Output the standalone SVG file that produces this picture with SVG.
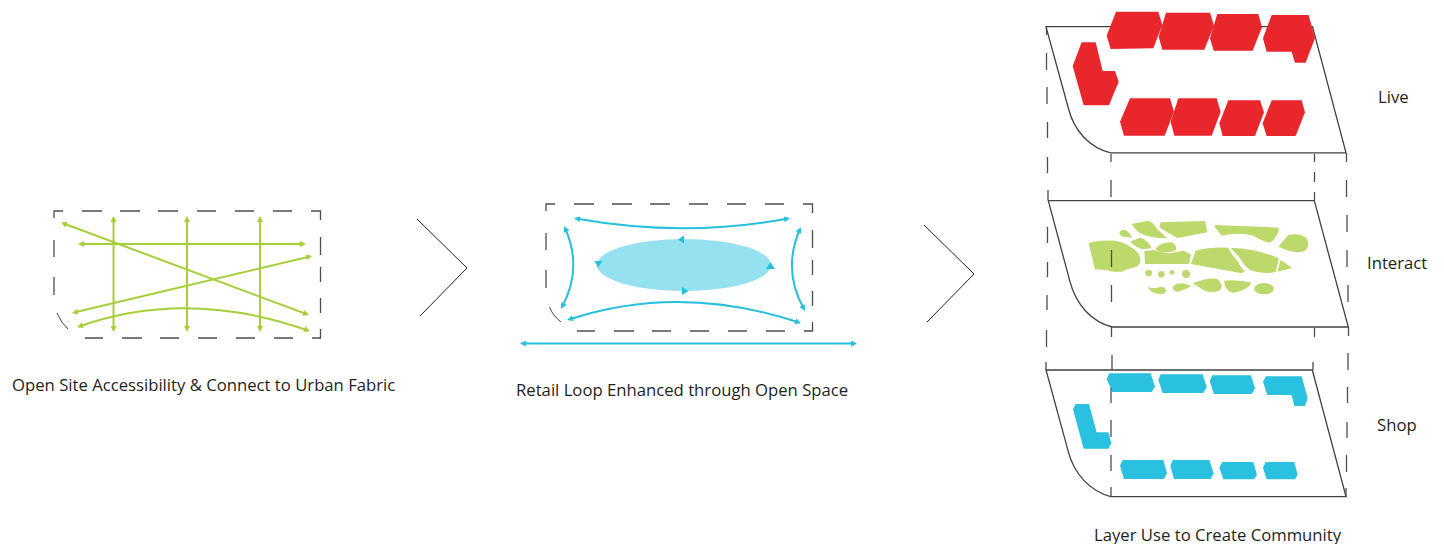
<svg xmlns="http://www.w3.org/2000/svg" width="1444" height="544" viewBox="0 0 1444 544">
<style>
text{font-family:"Open Sans","Noto Sans","Liberation Sans",sans-serif;font-size:16.700px;fill:#231f20}
.dash{fill:none;stroke:#4d4d4f;stroke-width:1.300}
.arc{fill:none;stroke:#414042;stroke-width:1}
.chev{fill:none;stroke:#231f20;stroke-width:1}
.plate{fill:#fff;stroke:#414042;stroke-width:1.300;stroke-linejoin:miter}
.g{fill:none;stroke:#a6ce39;stroke-width:2;marker-start:url(#ga);marker-end:url(#ga)}
.b{fill:none;stroke:#27bfde;stroke-width:2;marker-start:url(#ba);marker-end:url(#ba)}
.red{fill:#e9262c}.blu{fill:#29c1df}.grn{fill:#bdd96b}
.tri{fill:#27bfde}
</style>
<defs>
<marker id="ga" viewBox="0 0 6 6" refX="4" refY="3" markerWidth="3" markerHeight="3" orient="auto-start-reverse"><path d="M0 0L6 3L0 6Z" fill="#a6ce39"/></marker>
<marker id="ba" viewBox="0 0 6 6" refX="4" refY="3" markerWidth="3" markerHeight="3" orient="auto-start-reverse"><path d="M0 0L6 3L0 6Z" fill="#27bfde"/></marker>
<path id="frame" d="M54 218V211H63M82 211H102M120 211H140M158 211H178M197 211H216M235 211H254M273 211H292M311 211H320.500V220M320.500 237V255M320.500 267V282M320.500 298V313M320.500 329V338H312M293 338H274M255 338H236M217 338H198M179 338H160M142 338H122M103 338H85M54 240V257M54 277V295"/>
</defs>

<g id="connectors">
<path class="chev" d="M417 219L467 268L420 316"/>
<path class="chev" d="M924 225L974 274L927 322"/>
</g>

<g id="node-access">
<use href="#frame" class="dash"/>
<path class="arc" d="M57 313Q61 323 68 329"/>
<path class="g" d="M113.500 218V330"/>
<path class="g" d="M187 218V330"/>
<path class="g" d="M260 218V330"/>
<path class="g" d="M80 244H304"/>
<path class="g" d="M63 223.300L307 314.300"/>
<path class="g" d="M74 312.500L310 256.500"/>
<path class="g" d="M79 326.500Q187 288 308 330.500"/>
<text x="12" y="391">Open Site Accessibility &amp; Connect to Urban Fabric</text>
</g>

<g id="node-retail">
<use href="#frame" class="dash" transform="translate(492 -7)"/>
<path class="arc" d="M549.500 307Q553 316 561 322"/>
<ellipse cx="684" cy="265" rx="87" ry="26" fill="#95e1ef"/>
<path class="b" d="M576 218.500Q685 238 788 218.500"/>
<path class="b" d="M565 228Q583 268 562 307"/>
<path class="b" d="M800 229Q782 270 804 309"/>
<path class="b" d="M569 319.500Q680 283 799 322.500"/>
<path class="b" d="M522 343.500H855"/>
<path class="tri" d="M678 239.500L684 235.500V243.500Z"/>
<path class="tri" d="M594.500 261H602.500L598 267.500Z"/>
<path class="tri" d="M770.500 262L775 269H766Z"/>
<path class="tri" d="M688.500 291L682 287V295Z"/>
<text x="516" y="396">Retail Loop Enhanced through Open Space</text>
</g>

<g id="node-layers">
<path class="dash" d="M1046.500 35V27M1046.500 53V70M1047 87V104M1047.500 122V138M1047.500 157V173M1048 190V200M1047.500 227V243M1047.500 262V277M1047 295V310M1046.500 330V347M1046 362V370"/>
<path class="dash" d="M1111 154V162M1111 180V197M1111 215V233M1111.500 320V337M1112 355V370"/>
<path class="dash" d="M1314.500 154V162M1314.500 172V182M1314.500 192V200M1314.500 328V337M1313 362V370"/>
<path class="dash" d="M1346.500 153V162M1346.500 180V197M1347 215V232M1347 250V267M1348 285V302M1348.500 327V336M1348 353V370M1347.500 387V403M1347 422V438M1346.500 455V472M1346 488V497"/>

<g id="node-live">
<path class="plate" d="M1046 26.700H1312.500L1346 152.800H1110.700C1090 148 1074 131 1068.300 108Z"/>
<g class="red" transform="translate(1040 5) scale(.3333)">
<path d="M228 20H355L367 60L340 130L212 132L200 92Z"/>
<path d="M378 23H510L522 62L493 134H367L356 95Z"/>
<path d="M532 27H655L666 67L638 137H521L510 100Z"/>
<path d="M695 30H806L825 100L797 173H765L755 140H680L669 100Z"/>
<path d="M125 112H167L188 198H225L236 230L207 301H131L98 183Z"/>
<path d="M270 280H390L402 320L374 392H252L240 350Z"/>
<path d="M415 280H530L542 320L515 392H403L392 350Z"/>
<path d="M565 286H660L672 322L645 393H548L538 355Z"/>
<path d="M695 286H785L795 322L767 393H680L668 355Z"/>
</g>
<text x="1378" y="103">Live</text>
</g>

<g id="node-interact">
<path class="plate" d="M1048.300 200.700H1314.300L1348.300 327H1112.300C1092 322 1076 305 1070 281.700Z"/>
<g class="grn" transform="translate(1040 190) scale(.3333)">
<path d="M146 160Q170 150 225 152Q270 160 295 190Q310 215 290 230Q265 235 245 245Q215 247 200 240L165 238Q158 210 146 160Z"/>
<path d="M275 102L325 92Q340 95 352 118L382 145Q330 145 300 130Q285 120 275 102Z"/>
<path d="M362 97L495 93L502 127L412 144Q385 130 358 112Z"/>
<path d="M525 105L717 113Q715 140 690 158Q670 155 640 137Q600 125 545 137Q535 125 525 112Z"/>
<path d="M715 170L745 135Q780 128 800 145Q812 165 795 182Q770 195 715 170Z"/>
<path d="M238 127Q245 115 260 122Q272 130 276 143L250 140Q240 138 238 127Z"/>
<path d="M270 155L300 143Q325 150 335 175L305 178Q285 170 270 155Z"/>
<path d="M347 175Q365 155 395 157Q412 165 408 180Q390 190 365 187Q350 182 347 175Z"/>
<path d="M313 183L345 180Q365 190 390 190L430 182L453 193L447 222L315 222Z"/>
<path d="M467 182Q510 170 565 173Q575 195 595 215Q605 240 615 243L605 250L453 222Z"/>
<path d="M572 173Q650 175 717 205L707 245Q670 255 630 240Q610 225 600 205Z"/>
<path d="M722 210L757 234L712 245Z"/>
<circle cx="326" cy="249" r="10"/><circle cx="364" cy="253" r="10"/><circle cx="396" cy="247" r="7"/><circle cx="438" cy="252" r="12"/>
<path d="M322 292L345 295L365 290Q385 295 375 310Q355 315 335 305Z"/>
<path d="M398 290Q410 278 430 280L455 287Q435 300 415 305Q398 305 398 290Z"/>
<path d="M458 280Q500 262 530 266Q552 280 542 300Q520 310 495 303Z"/>
<path d="M552 272Q590 268 635 278Q625 300 580 308Q555 305 552 272Z"/>
<ellipse cx="672" cy="296" rx="30" ry="17"/>
</g>
<path class="dash" d="M1111.500 250V267M1111.500 285V302"/>
<text x="1367" y="269">Interact</text>
</g>

<g id="node-shop">
<path class="plate" d="M1046 370H1312.300L1346 496.700H1110.700C1090 491 1074 474 1068.300 451.700Z"/>
<g class="blu" transform="translate(1040 355) scale(.3333)">
<path d="M208 55H332L345 95L335 111H217L200 72Z"/>
<path d="M362 58H488L500 97L490 114H368L355 75Z"/>
<path d="M517 61H633L645 100L635 117H522L509 78Z"/>
<path d="M678 64H785L803 130L795 153H763L755 120H682L669 80Z"/>
<path d="M107 147H147L170 232H205L214 265L205 281H131L99 163Z"/>
<path d="M248 315H370L381 355L372 372H252L240 332Z"/>
<path d="M398 315H508L521 355L512 372H402L391 332Z"/>
<path d="M547 321H640L651 360L642 373H550L538 338Z"/>
<path d="M677 321H763L773 360L765 373H680L669 338Z"/>
</g>
<path class="dash" d="M1111 388V403M1111 420V437M1111 455V471M1111 487V497"/>
<text x="1377" y="431">Shop</text>
</g>
<text id="node-layer-caption" x="1094" y="541">Layer Use to Create Community</text>
</g>
</svg>
